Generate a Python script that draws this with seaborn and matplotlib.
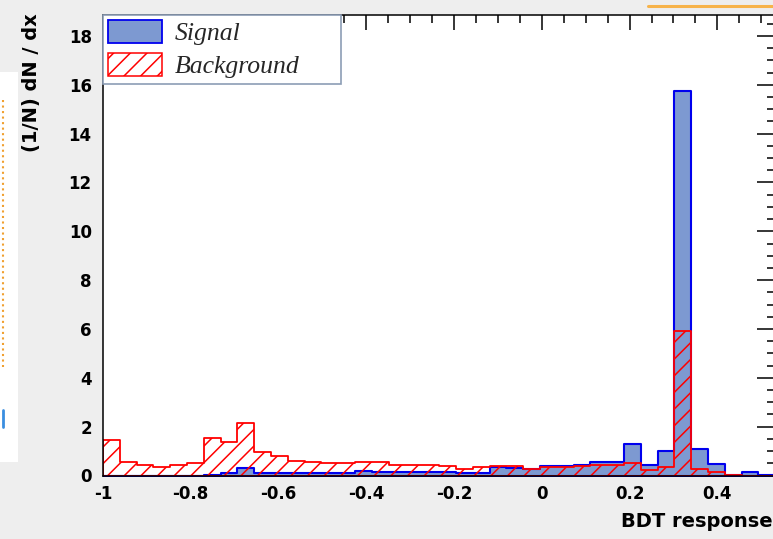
import numpy as np
import pandas as pd
import matplotlib
matplotlib.use("Agg")
import matplotlib.pyplot as plt
import seaborn as sns
from matplotlib.ticker import MultipleLocator, FuncFormatter
from matplotlib.patches import Patch, Rectangle
from matplotlib.lines import Line2D

# ---------------- data ----------------
x_min, x_max, n_bins = -1.0, 0.532, 40
y_max = 18.86

signal = [0.0, 0.0, 0.0, 0.0, 0.0, 0.0, 0.03, 0.10, 0.29, 0.10,
          0.10, 0.10, 0.10, 0.10, 0.12, 0.17, 0.13, 0.13, 0.13, 0.13,
          0.15, 0.10, 0.12, 0.35, 0.30, 0.25, 0.37, 0.37, 0.42, 0.54,
          0.54, 1.28, 0.41, 1.00, 15.73, 1.07, 0.48, 0.02, 0.15, 0.02]
background = [1.45, 0.54, 0.43, 0.34, 0.43, 0.50, 1.52, 1.39, 2.14, 0.98,
              0.80, 0.59, 0.55, 0.52, 0.50, 0.57, 0.57, 0.43, 0.43, 0.43,
              0.39, 0.25, 0.34, 0.39, 0.39, 0.25, 0.34, 0.34, 0.39, 0.43,
              0.45, 0.52, 0.22, 0.36, 5.93, 0.27, 0.14, 0.02, 0.0, 0.0]
x_ticks = [-1, -0.8, -0.6, -0.4, -0.2, 0, 0.2, 0.4]
y_ticks = [0, 2, 4, 6, 8, 10, 12, 14, 16, 18]
legend_labels = ["Signal", "Background"]
x_label = "BDT response"
y_label = "(1/N) dN / dx"

# ---------------- style ----------------
sns.set_theme(style="white")
plt.rcParams["font.family"] = ["DejaVu Sans"]
plt.rcParams["hatch.color"] = "#ff0000"
plt.rcParams["hatch.linewidth"] = 1.1

edges = [float(e) for e in np.linspace(x_min, x_max, n_bins + 1)]
centers = [(a + b) / 2 for a, b in zip(edges[:-1], edges[1:])]
df = pd.DataFrame({"x": centers, "signal": signal, "background": background})

W, H = 773, 539
fig = plt.figure(figsize=(W / 100, H / 100), dpi=100, facecolor="#eeeeee")
ax = fig.add_axes([102.9 / W, (H - 475.5) / H, 672.4 / W, 460.5 / H])
ax.set_facecolor("white")

sns.histplot(data=df, x="x", weights="signal", bins=edges, element="step",
             fill=True, color="#7d99d1", facecolor="#7d99d1",
             edgecolor="#0000ee", linewidth=1.5, ax=ax)
sns.histplot(data=df, x="x", weights="background", bins=edges, element="step",
             fill=True, color="#ff0000", facecolor="none",
             edgecolor="#ff0000", linewidth=1.3, hatch="//", ax=ax)

ax.set_xlim(x_min, x_max)
ax.set_ylim(0, y_max)
ax.set_xlabel("")
ax.set_ylabel("")
ax.set_xticks(x_ticks)
ax.set_yticks(y_ticks)
ax.xaxis.set_minor_locator(MultipleLocator(0.05))
ax.yaxis.set_minor_locator(MultipleLocator(0.5))
ax.xaxis.set_major_formatter(FuncFormatter(lambda v, p: f"{v:g}"))
ax.yaxis.set_major_formatter(FuncFormatter(lambda v, p: f"{v:g}"))
ax.tick_params(axis="both", which="both", direction="in", top=True,
               right=True, width=1.1, color="black", labelcolor="black")
ax.tick_params(axis="x", which="major", length=11, pad=7, labelsize=12)
ax.tick_params(axis="x", which="minor", length=5.8)
ax.tick_params(axis="y", which="major", length=13, pad=8, labelsize=12)
ax.tick_params(axis="y", which="minor", length=5.8)
for lab in ax.get_xticklabels() + ax.get_yticklabels():
    lab.set_fontweight("bold")
for s in ax.spines.values():
    s.set_visible(True)
    s.set_color("black")
    s.set_linewidth(1.1)

handles = [Patch(facecolor="#7d99d1", edgecolor="#0000ee", linewidth=1.3),
           Patch(facecolor="white", edgecolor="#ff0000", hatch="//", linewidth=1.1)]
leg = ax.legend(handles, legend_labels, loc="upper left",
                bbox_to_anchor=(0, 1, 0.3537, 0), mode="expand",
                borderaxespad=0,
                prop={"family": "Liberation Serif", "style": "italic", "size": 18.5},
                handlelength=2.1, handleheight=1.0, handletextpad=0.5,
                borderpad=0.2, labelspacing=0.3, frameon=True, fancybox=False)
leg.get_frame().set_edgecolor("#8c9db5")
leg.get_frame().set_linewidth(1.2)
leg.get_frame().set_facecolor("white")
leg.get_frame().set_alpha(1)

fig.text(31.7 / W, 1 - 13 / H, y_label, rotation=90, ha="center", va="top",
         fontsize=14, fontweight="bold", color="black")
fig.text(1.0, 1 - 527 / H, x_label, ha="right", va="baseline",
         fontsize=14, fontweight="bold", color="black")

# screenshot remnants around the chart
fig.patches.append(Rectangle((0, 1 - 462 / H), 18 / W, 390 / H,
                             transform=fig.transFigure, facecolor="white",
                             edgecolor="none", zorder=0))
fig.lines.append(Line2D([3 / W, 3 / W], [1 - 100 / H, 1 - 367 / H],
                        transform=fig.transFigure, color="#f0a030",
                        linewidth=1.5, linestyle=":"))
fig.lines.append(Line2D([3 / W, 3 / W], [1 - 410 / H, 1 - 427 / H],
                        transform=fig.transFigure, color="#3a8ee0",
                        linewidth=2))
fig.lines.append(Line2D([648 / W, 1.0], [1 - 6 / H, 1 - 6 / H],
                        transform=fig.transFigure, color="#f7b34a",
                        linewidth=2.2))

fig.savefig("out.png", dpi=100, facecolor=fig.get_facecolor())
